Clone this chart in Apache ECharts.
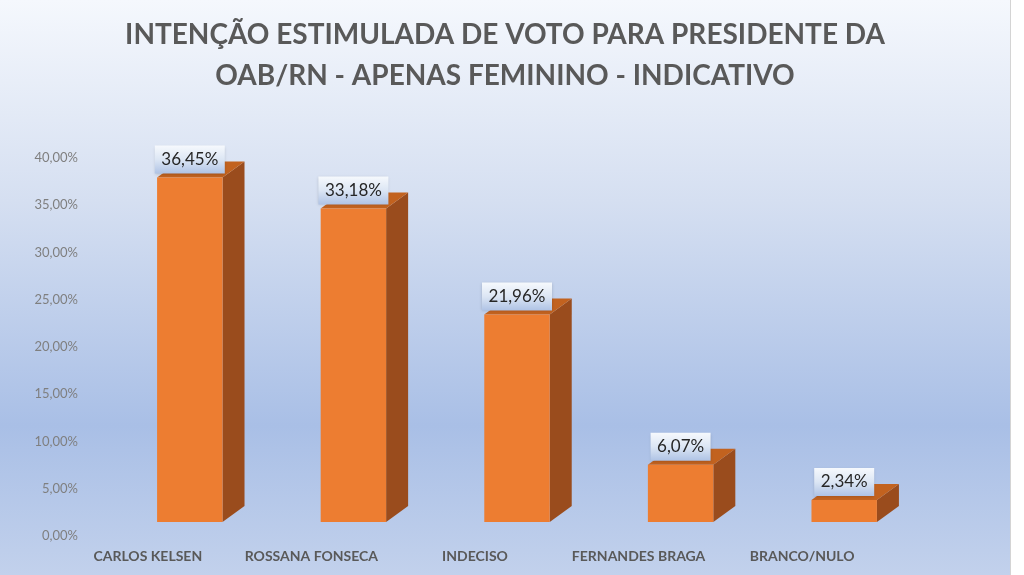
<!DOCTYPE html>
<html>
<head>
<meta charset="utf-8">
<script src="https://cdn.jsdelivr.net/npm/echarts@6/dist/echarts.min.js"></script>
<style>
html,body{margin:0;padding:0;background:#ffffff;}
#chart{width:1010px;height:575px;border-right:1px solid #d4d4d4;}
</style>
</head>
<body>
<div id="chart"></div>
<script>
const titleLines = ['INTENÇÃO ESTIMULADA DE VOTO PARA PRESIDENTE DA', 'OAB/RN - APENAS FEMININO - INDICATIVO'];
const categories = ['CARLOS KELSEN', 'ROSSANA FONSECA', 'INDECISO', 'FERNANDES BRAGA', 'BRANCO/NULO'];
const values = [36.45, 33.18, 21.96, 6.07, 2.34];
const yMin = 0, yMax = 40, yStep = 5;

function fmt(v) { return v.toFixed(2).replace('.', ',') + '%'; }

const chart = echarts.init(document.getElementById('chart'));
chart.setOption({
  backgroundColor: new echarts.graphic.LinearGradient(0, 0, 0, 1, [
    { offset: 0, color: '#f5f8fd' },
    { offset: 0.35, color: '#d5dff1' },
    { offset: 0.74, color: '#a9bfe6' },
    { offset: 1, color: '#c2d1ec' }
  ]),
  animation: false,
  title: {
    text: titleLines.join('\n'),
    left: 'center',
    top: 9,
    textStyle: { fontFamily: 'Lato', fontWeight: 'bold', fontSize: 28, color: '#595959', lineHeight: 41 }
  },
  grid: { left: 108, right: 84, top: 158, bottom: 39 },
  xAxis: {
    type: 'category',
    data: categories,
    axisLine: { show: false },
    axisTick: { show: false },
    axisLabel: {
      interval: 0,
      hideOverlap: false,
      margin: 13,
      formatter: v => '{a|' + v + '}',
      rich: { a: { fontFamily: 'Lato', fontWeight: 'bold', fontSize: 14, color: '#595959', padding: [0, 84, 0, 0] } }
    }
  },
  yAxis: {
    type: 'value',
    min: yMin, max: yMax, interval: yStep,
    splitLine: { show: false },
    axisLine: { show: false },
    axisTick: { show: false },
    axisLabel: { margin: 30, fontFamily: 'Lato', fontSize: 13, color: '#7f7f7f', formatter: v => fmt(v) }
  },
  series: [{
    type: 'custom',
    data: values.map((v, i) => [i, v]),
    renderItem: function (params, api) {
      const v = api.value(1);
      const top = api.coord([api.value(0), v]);
      const base = api.coord([api.value(0), 0]);
      const w = api.size([1, 0])[0] * 0.4;
      const dx = 22, dy = 16, lift = 14;
      const x0 = top[0] - w / 2, x1 = top[0] + w / 2;
      const yb = base[1] - lift, yt = top[1] - lift;
      const txt = fmt(v);
      const bw = txt.length * 10 + 10, bh = 28;
      return {
        type: 'group',
        children: [
          { type: 'polygon', shape: { points: [[x1, yt], [x1 + dx, yt - dy], [x1 + dx, yb - dy], [x1, yb]] }, style: { fill: '#9a4c1d' } },
          { type: 'polygon', shape: { points: [[x0, yt], [x0 + dx, yt - dy], [x1 + dx, yt - dy], [x1, yt]] }, style: { fill: '#c2621f' } },
          { type: 'rect', shape: { x: x0, y: yt, width: w, height: yb - yt }, style: { fill: '#ed7d31' } },
          {
            type: 'rect',
            shape: { x: top[0] - bw / 2, y: yt - 4 - bh, width: bw, height: bh },
            style: {
              fill: new echarts.graphic.LinearGradient(0, 0, 0, 1, [
                { offset: 0, color: '#f6f9fd' },
                { offset: 0.5, color: '#dce6f4' },
                { offset: 1, color: '#afc3e5' }
              ]),
              shadowBlur: 3, shadowColor: 'rgba(0,0,0,0.18)', shadowOffsetY: 1
            }
          },
          {
            type: 'text',
            style: {
              text: txt, x: top[0], y: yt - 4 - bh / 2,
              align: 'center', verticalAlign: 'middle',
              fontFamily: 'Lato', fontSize: 17, fill: '#262626'
            }
          }
        ]
      };
    }
  }]
});
</script>
</body>
</html>
